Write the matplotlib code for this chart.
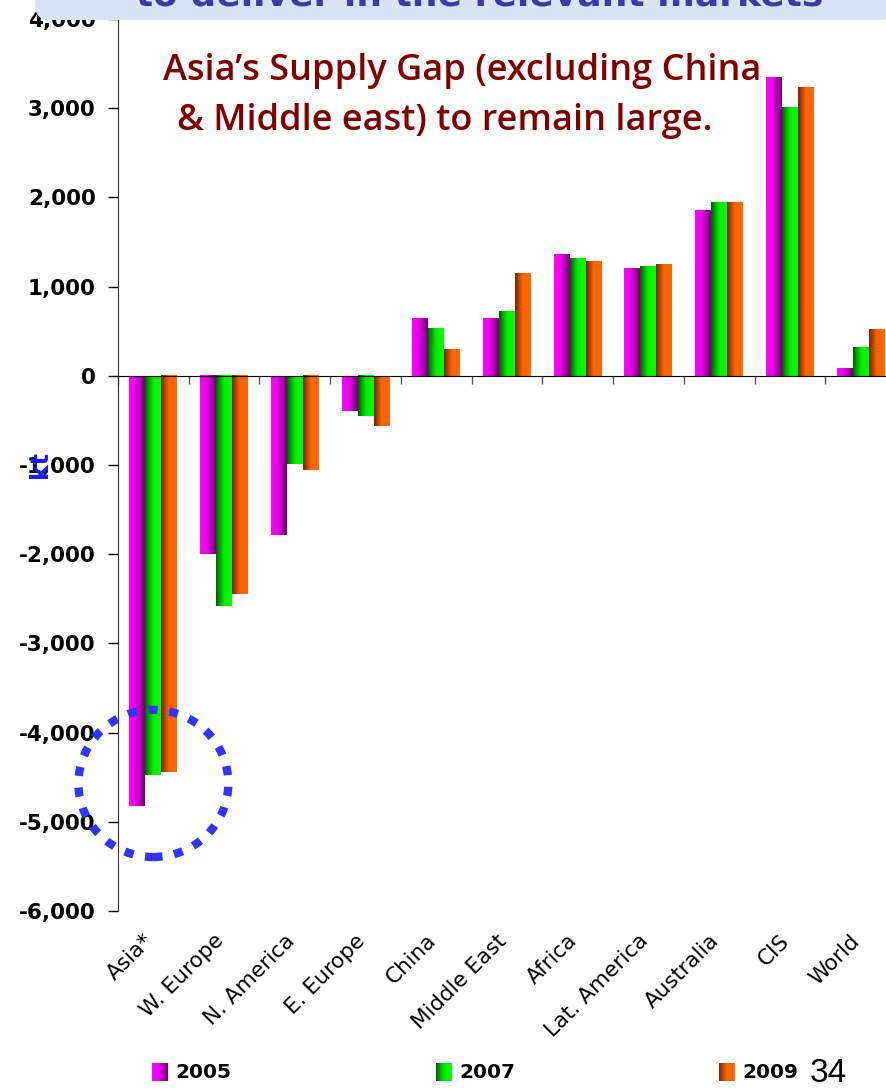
import numpy as np
import matplotlib
matplotlib.use("Agg")
import matplotlib.pyplot as plt
import matplotlib.patheffects as pe
from matplotlib.colors import LinearSegmentedColormap
from matplotlib.patches import Ellipse, FancyBboxPatch
from matplotlib.ticker import FuncFormatter

# -----------------------
# Data (kt)
# -----------------------
categories = ["Asia*", "W. Europe", "N. America", "E. Europe", "China", "Middle East",
              "Africa", "Lat. America", "Australia", "CIS", "World"]
years = ["2005", "2007", "2009"]
v2005 = [-4820, -2000, -1780, -390, 650, 650, 1360, 1210, 1850, 3350, 80]
v2007 = [-4470, -2580, -985, -450, 530, 720, 1320, 1230, 1940, 3015, 315]
v2009 = [-4440, -2445, -1055, -560, 300, 1145, 1280, 1255, 1940, 3230, 525]
yticks = list(range(-6000, 4001, 1000))

# -----------------------
# Gradient colour maps (left -> right across each bar)
# -----------------------
cmaps = [
    LinearSegmentedColormap.from_list("c05", [(0, "#ff00ff"), (0.4, "#ee00ee"), (1, "#6e006e")]),
    LinearSegmentedColormap.from_list("c07", [(0, "#005c00"), (0.5, "#00ee00"), (1, "#00ff00")]),
    LinearSegmentedColormap.from_list("c09", [(0, "#702400"), (0.5, "#ff6600"), (1, "#ff6600")]),
]
grad = np.linspace(0, 1, 256).reshape(1, -1)

W, H = 887, 1091
fig = plt.figure(figsize=(W / 100, H / 100), dpi=100)
plt.rcParams["font.family"] = ["DejaVu Sans"]

ax = fig.add_axes([118 / W, 1 - 911 / H, 778 / W, 892 / H])

bw = 0.226
x = np.arange(len(categories))
for k, vals in enumerate([v2005, v2007, v2009]):
    for i, v in enumerate(vals):
        xc = x[i] + (k - 1) * bw
        ax.imshow(grad, cmap=cmaps[k], aspect="auto", zorder=2, interpolation="bilinear",
                  extent=[xc - bw / 2, xc + bw / 2, min(0, v), max(0, v)])

ax.set_xlim(-0.5, len(categories) - 0.5)
ax.set_ylim(-6000, 4000)
ax.set_yticks(yticks)
ax.yaxis.set_major_formatter(FuncFormatter(lambda v, p: f"{int(v):,}"))
ax.tick_params(axis="y", length=7, width=1, pad=9, labelsize=15.5)
for lab in ax.get_yticklabels():
    lab.set_fontweight("bold")

ax.spines["top"].set_visible(False)
ax.spines["right"].set_visible(False)
ax.spines["bottom"].set_position(("data", 0))
ax.spines["bottom"].set_zorder(3)
ax.spines["left"].set_color("#333333")
ax.set_xticks(np.arange(-0.5, len(categories), 1))
ax.set_xticklabels([])
ax.tick_params(axis="x", length=6, width=1, color="#555555")

for i, c in enumerate(categories):
    ax.text(x[i] - 0.05, -6300, c, rotation=45, ha="right", va="center",
            rotation_mode="anchor", fontsize=15.5)

# dotted circle around Asia
ax.add_patch(Ellipse((0, -4570), 2.12, 1650, fill=False, edgecolor="#3333ff",
                     lw=6, linestyle=(0, (1.1, 1.4)), clip_on=False, zorder=5))

# -----------------------
# Texts
# -----------------------
title_kw = dict(fontsize=26, color="#800000", family="Open Sans", weight="semibold")
fig.text(163 / W, 1 - 80 / H, "Asia\u2019s Supply Gap (excluding China", **title_kw)
fig.text(177 / W, 1 - 130 / H, "& Middle east) to remain large.", **title_kw)
fig.text(40 / W, 1 - 465 / H, "kt", rotation=90, color="#1a1aff",
         fontsize=17, weight="bold", ha="center", va="center")

# top banner (cut off slide header); text drawn as paths so the figure edge clips it
fig.patches.append(FancyBboxPatch((35 / W, 1 - 20 / H), 860 / W, 40 / H,
                                  boxstyle="round,pad=0,rounding_size=0.015",
                                  transform=fig.transFigure, facecolor="#d6e4f3",
                                  edgecolor="none", zorder=0))
fig.text(480 / W, 1 - 6 / H, "to deliver in the relevant markets", fontsize=26,
         color="#3a3aa8", weight="bold", ha="center", va="baseline",
         path_effects=[pe.Normal()])

# -----------------------
# Legend
# -----------------------
leg_x = [152, 436, 719]
for k, yr in enumerate(years):
    lax = fig.add_axes([leg_x[k] / W, 1 - 1081 / H, 16 / W, 18 / H])
    lax.imshow(grad, cmap=cmaps[k], aspect="auto")
    lax.axis("off")
    fig.text((leg_x[k] + 23) / W, 1 - 1072 / H, yr, fontsize=14.5, weight="bold",
             va="center")
fig.text(810 / W, 1 - 1073 / H, "34", fontsize=24, va="center", family="Liberation Sans")

fig.savefig("out.png", dpi=100)
